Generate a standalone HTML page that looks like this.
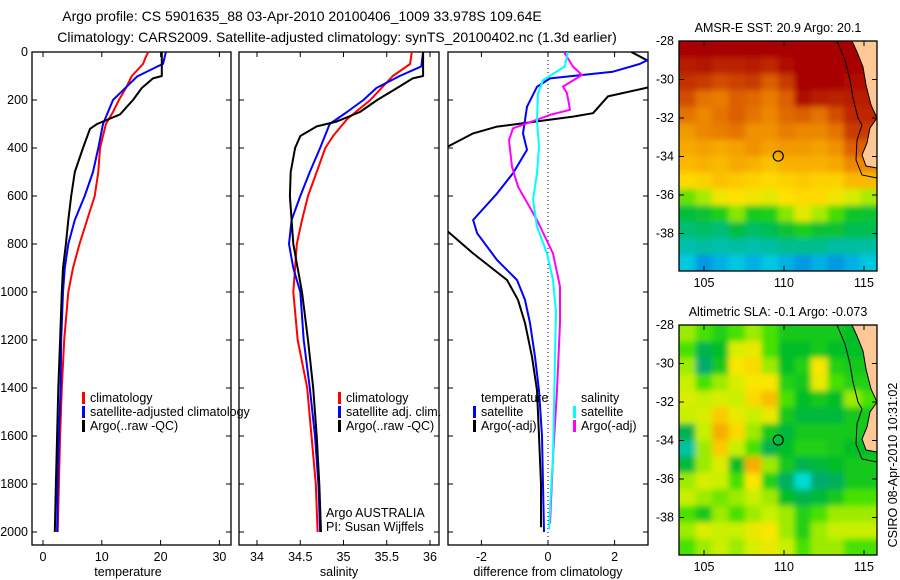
<!DOCTYPE html>
<html><head><meta charset="utf-8"><style>
html,body{margin:0;padding:0;background:#fff;}
svg{display:block;font-family:"Liberation Sans",sans-serif;}
text{fill:#000;}
</style></head><body>
<svg id="fig" width="900" height="580" viewBox="0 0 900 580">
<text x="302" y="21" font-size="14" text-anchor="middle">Argo profile: CS 5901635_88 03-Apr-2010 20100406_1009 33.978S 109.64E</text>
<text x="337" y="42" font-size="14" text-anchor="middle">Climatology: CARS2009. Satellite-adjusted climatology: synTS_20100402.nc (1.3d earlier)</text>
<g id="g"></g>
</svg>
<script>
// ---------- data ----------
const depthTicks=[0,200,400,600,800,1000,1200,1400,1600,1800,2000];
const tempTicks=[0,10,20,30];
const salTicks=[34,34.5,35,35.5,36];
const diffTicks=[-2,0,2];
const lonTicks=[105,110,115];
const latTicks=[-28,-30,-32,-34,-36,-38];

const tClimDepth=[0,20,50,100,150,200,250,300,400,500,600,700,800,900,1000,1200,1400,1600,1800,2000];
const tClim=[17.9,17.5,17,15.1,14.1,12.9,11.9,10.7,9.7,9.4,8.8,7.5,6.2,5.1,4.3,3.6,3.2,2.9,2.7,2.5];
const tSatDepth=[0,50,61,102,200,300,400,500,600,700,800,900,1000,1200,1400,1600,1800,2000];
const tSat=[20.9,20.4,19.4,16,11.9,10.2,9.4,8.5,7.1,5.4,4.3,3.7,3.4,3.1,3.0,2.7,2.5,2.4];
const tArgoDepth=[0,100,110,150,200,260,300,320,400,500,600,700,800,900,1000,1200,1400,1600,1800,2000];
const tArgo=[20.2,20.2,18.7,16.8,15.3,13.1,9.2,8,6.8,5.4,4.8,4.3,3.9,3.4,3.2,2.9,2.6,2.4,2.2,2.0];

const sClimDepth=[0,50,100,200,280,350,400,500,600,700,800,900,1000,1200,1400,1600,1800,2000];
const sClim=[35.79,35.77,35.57,35.31,35.04,34.88,34.79,34.69,34.59,34.52,34.46,34.44,34.42,34.47,34.58,34.63,34.68,34.7];
const sSatDepth=[0,60,100,150,200,250,300,400,500,600,700,800,900,1000,1200,1400,1600,1800,2000];
const sSat=[35.92,35.9,35.65,35.38,35.23,35.04,34.84,34.73,34.61,34.5,34.4,34.37,34.42,34.5,34.54,34.61,34.67,34.71,34.73];
const sArgoDepth=[0,100,110,150,200,250,290,310,350,400,500,600,800,1000,1200,1400,1600,1800,2000];
const sArgo=[35.92,35.92,35.8,35.62,35.39,35.19,34.92,34.69,34.5,34.44,34.39,34.38,34.42,34.52,34.59,34.65,34.69,34.72,34.74];

const dTSatDepth=[0,33,50,82,110,145,228,339,408,505,589,700,755,867,950,1033,1129,1270,1410,1600,1800,2000];
const dTSat=[4,3.0,2.75,1.95,0.06,-0.33,-0.63,-0.75,-0.63,-1.05,-1.53,-2.25,-2.13,-1.53,-0.93,-0.69,-0.54,-0.39,-0.27,-0.18,-0.15,-0.12];
const dTArgoDepth=[0,40,100,148,185,255,269,297,311,339,408,500,700,749,839,950,1033,1129,1270,1410,1600,1800,1980];
const dTArgo=[2.5,3.05,4.5,3.0,1.8,1.35,0.75,-0.75,-1.53,-2.25,-3.2,-4.5,-4.5,-3.0,-2.25,-1.23,-0.9,-0.69,-0.48,-0.33,-0.27,-0.21,-0.21];
const dSSatDepth=[0,61,117,172,283,394,505,616,727,839,950,1083,1270,1480,1687,1826,1990];
const dSSat=[0.6,0.5,-0.15,-0.3,-0.33,-0.27,-0.33,-0.45,-0.33,-0.03,0.15,0.24,0.21,0.18,0.15,0.09,0.03];
const dSArgoDepth=[0,61,96,144,172,241,262,297,318,367,478,561,700,839,978,1129,1410,1687,1965];
const dSArgo=[0.48,0.75,1.02,0.45,0.57,0.66,0.06,-0.63,-1.05,-1.17,-1.08,-0.9,-0.33,0.15,0.36,0.36,0.27,0.15,0.06];

// SST grid (deg C), rows north->south, cols west->east
const sstGrid=[
[23,23,23,23,23,23,23,23,23,23,23,23],
[22.6,22.7,22.5,22.5,22.6,22.4,22.8,23,23,23,23,23],
[22.3,22.2,22.0,22.1,22.2,21.8,22.2,23,23,23,22.8,22.8],
[22,21.6,21.5,21.8,21.7,21.5,21.8,22.8,22.6,22.5,22.6,22.6],
[21.6,21.4,21.6,21.8,21.6,21.4,21.7,21.8,21.6,22,22.4,22.4],
[21.2,21.4,21.5,21.6,21.3,21.3,21.5,21.4,21.4,21.6,22.2,22.2],
[21,21.1,21.0,21.1,21.3,21.1,21.2,21.2,21.1,21.3,21.8,21.8],
[20.8,20.9,20.8,21.0,20.9,20.7,20.9,20.9,20.9,21.0,21.4,21.4],
[20.4,20.5,20.7,20.6,20.5,20.4,20.5,20.6,20.5,20.5,20.8,20.8],
[19.6,19.8,20.2,20.3,20.2,20.1,20.3,20.4,20.4,20.2,20,19.8],
[18.8,18.9,19.2,19.7,19.1,19.2,19.7,20.1,19.8,19.5,19,18.9],
[18.5,18.6,18.5,18.8,18.6,18.7,18.9,19.2,18.9,18.9,18.7,18.7],
[18.2,18.3,18.2,18.3,18.2,18.3,18.4,18.4,18.4,18.3,18.3,18.3],
[17.8,17.6,17.7,17.8,17.7,17.8,17.7,17.6,17.7,17.6,17.7,17.8]];
// SLA grid (m)
const slaGrid=[
[.02,.0,-.02,.0,.02,.0,-.03,-.03,-.03,-.03,-.04,-.04],
[.0,-.06,-.04,.04,.05,.0,-.04,-.04,-.03,-.04,-.04,-.04],
[.02,-.08,-.03,.06,.07,.02,-.04,-.02,.06,-.02,-.03,-.03],
[.03,.0,.02,.04,.06,.06,-.02,-.03,.05,.0,-.02,-.02],
[.04,.03,.04,.03,.07,.09,.0,-.04,-.03,-.04,.02,.0],
[.03,.04,.08,.05,.03,.05,-.03,-.05,-.05,-.05,-.03,-.03],
[-.06,.03,.1,.07,.02,-.03,-.05,-.03,-.03,-.03,-.03,-.03],
[-.1,.02,.08,.03,.0,-.06,-.04,-.02,-.02,-.03,-.04,-.04],
[-.05,.02,.04,-.04,.1,.02,-.03,-.06,-.05,-.04,-.03,-.03],
[.02,.04,.03,.0,.06,-.02,-.07,-.12,-.08,-.07,-.03,-.03],
[.03,.02,.01,.02,.03,.02,-.04,-.06,-.05,-.03,.0,.0],
[.0,-.03,.02,.0,.02,.03,.02,-.02,.0,.02,.02,.02],
[.02,.04,.03,.03,.05,.06,.02,-.02,.02,.03,.03,.03],
[.0,.02,.03,.02,.04,.05,.03,.0,.02,.02,.0,.0]];
const argoLon=109.64, argoLat=-33.978;

// ---------- helpers ----------
const NS='http://www.w3.org/2000/svg';
const G=document.getElementById('g');
function mk(tag,attrs,parent){const e=document.createElementNS(NS,tag);for(const k in attrs)e.setAttribute(k,attrs[k]);(parent||G).appendChild(e);return e;}
const yD=d=>52+d*0.24;

function panel(name,x0,x1,xs,ticks,fmt,label,labelX){
  const g=mk('g',{});
  
  
  mk('rect',{x:x0,y:52,width:x1-x0,height:493,fill:'none',stroke:'#000','stroke-width':1.3},g);
  ticks.forEach(t=>{const x=xs(t);
    mk('line',{x1:x,x2:x,y1:52,y2:57,stroke:'#000'},g);
    mk('line',{x1:x,x2:x,y1:545,y2:540,stroke:'#000'},g);
    const tx=mk('text',{x:x,y:561,'font-size':12.5,'text-anchor':'middle'},g);tx.textContent=fmt(t);
    
    
  });
  depthTicks.forEach(d=>{const y=yD(d);
    mk('line',{x1:x0,x2:x0+5,y1:y,y2:y,stroke:'#000'},g);
    mk('line',{x1:x1,x2:x1-5,y1:y,y2:y,stroke:'#000'},g);
  });
  const l=mk('text',{x:labelX,y:576,'font-size':12.5,'text-anchor':'middle'},g);l.textContent=label;
  
  
  return g;
}
function line(g,depths,vals,xs,color,w,clip,name){
  const pts=depths.map((d,i)=>xs(vals[i]).toFixed(1)+','+yD(d).toFixed(1)).join(' ');
  const p=mk('polyline',{points:pts,fill:'none',stroke:color,'stroke-width':w,'stroke-linejoin':'round','clip-path':clip||''},g);
  
  
}
function legend(g,x,y,color,txt){
  if(color) mk('rect',{x:x,y:y-10,width:3,height:12,fill:color},g);
  const t=mk('text',{x:x+8,y:y,'font-size':12.5},g);t.textContent=txt;
  
  
}

depthTicks.forEach(d=>{const t=mk('text',{x:28,y:yD(d)+4,'font-size':12.5,'text-anchor':'end'});t.textContent=d;
  
  });

const xT=v=>43+5.88*v;
const p1=panel('temperature-panel',32,231,xT,tempTicks,String,'temperature',128);
line(p1,tClimDepth,tClim,xT,'#f00',2,'','temp-climatology-line');
line(p1,tSatDepth,tSat,xT,'#00f',2,'','temp-satellite-line');
line(p1,tArgoDepth,tArgo,xT,'#000',2,'','temp-argo-line');
legend(p1,82,402,'#f00','climatology');
legend(p1,82,416,'#00f','satellite-adjusted climatology');
legend(p1,82,430,'#000','Argo(..raw -QC)');

const xS=v=>257+86.5*(v-34);
const p2=panel('salinity-panel',239,439,xS,salTicks,String,'salinity',339);
line(p2,sClimDepth,sClim,xS,'#f00',2,'','sal-climatology-line');
line(p2,sSatDepth,sSat,xS,'#00f',2,'','sal-satellite-line');
line(p2,sArgoDepth,sArgo,xS,'#000',2,'','sal-argo-line');
legend(p2,338,402,'#f00','climatology');
legend(p2,338,416,'#00f','satellite adj. clim.');
legend(p2,338,430,'#000','Argo(..raw -QC)');
const a1=mk('text',{x:326,y:517,'font-size':12.5},p2);a1.textContent='Argo AUSTRALIA';


const a2=mk('text',{x:326,y:531,'font-size':12.5},p2);a2.textContent='PI: Susan Wijffels';



const defs=mk('defs',{});
const cp=mk('clipPath',{id:'c3'},defs);mk('rect',{x:448,y:52,width:200,height:493},cp);
const cm1=mk('clipPath',{id:'cm41'},defs);mk('rect',{x:679,y:41,width:198,height:230},cm1);
const cm2=mk('clipPath',{id:'cm325'},defs);mk('rect',{x:679,y:325,width:198,height:230},cm2);
const fb=mk('filter',{id:'blur',x:'-10%',y:'-10%',width:'120%',height:'120%'},defs);
mk('feGaussianBlur',{stdDeviation:3},fb);
const xDf=v=>548+33.3*v;
const p3=panel('difference-panel',448,648,xDf,diffTicks,String,'difference from climatology',548);
mk('line',{x1:548,x2:548,y1:52,y2:545,stroke:'#000','stroke-dasharray':'1,3'},p3);
line(p3,dTArgoDepth,dTArgo,xDf,'#000',2,'url(#c3)','diff-temp-argo-line');
line(p3,dTSatDepth,dTSat,xDf,'#00f',2,'url(#c3)','diff-temp-satellite-line');
line(p3,dSArgoDepth,dSArgo,xDf,'#f0f',2,'url(#c3)','diff-sal-argo-line');
line(p3,dSSatDepth,dSSat,xDf,'#0ff',2,'url(#c3)','diff-sal-satellite-line');
legend(p3,473,402,null,'temperature');
legend(p3,473,416,'#00f','satellite');
legend(p3,473,430,'#000','Argo(-adj)');
legend(p3,573,402,null,'salinity');
legend(p3,573,416,'#0ff','satellite');
legend(p3,573,430,'#f0f','Argo(-adj)');

// ---------- maps ----------
function interpRGB(stops,v){
  if(v<=stops[0][0])return 'rgb('+stops[0][1].join(',')+')';
  for(let i=1;i<stops.length;i++){if(v<=stops[i][0]){const a=stops[i-1],b=stops[i],f=(v-a[0])/(b[0]-a[0]);
    return 'rgb('+a[1].map((c,k)=>Math.round(c+(b[1][k]-c)*f)).join(',')+')';}}
  return 'rgb('+stops[stops.length-1][1].join(',')+')';
}
const sstStops=[[17.3,[0,80,230]],[17.8,[0,200,225]],[18.3,[0,190,160]],[18.8,[0,190,60]],[19.4,[40,215,0]],[19.9,[200,240,0]],[20.3,[255,225,0]],[20.8,[250,185,0]],[21.3,[240,145,0]],[21.8,[220,95,0]],[22.4,[190,40,0]],[23,[168,0,0]]];
const slaStops=[[-0.12,[0,220,210]],[-0.08,[0,170,110]],[-0.04,[0,190,40]],[0,[70,225,0]],[0.03,[200,240,0]],[0.06,[250,230,0]],[0.09,[250,190,0]],[0.12,[240,140,0]]];

function map(name,top,grid,stops,title){
  const g=mk('g',{});
  
  
  const L=679,R=877,W=R-L,H=230;
  const lonX=lo=>704+(lo-105)*16;
  const latY=la=>top+(-28-la)*19.25;
  const rows=grid.length,cols=grid[0].length,cw=W/cols,ch=H/rows;
  const clipG=mk('g',{'clip-path':'url(#cm'+top+')'},g);
  const cells=mk('g',{filter:'url(#blur)'},clipG);
  const pad=14;
  grid.forEach((row,r)=>row.forEach((v,c)=>{
    let x=L+c*cw,y=top+r*ch,w=cw+0.6,h=ch+0.6;
    if(c===0){x-=pad;w+=pad;} if(c===cols-1){w+=pad;}
    if(r===0){y-=pad;h+=pad;} if(r===rows-1){h+=pad;}
    const cell=mk('rect',{x:x,y:y,width:w,height:h,fill:interpRGB(stops,v)},cells);
    
    
  }));
  const o=top-41;
  const land=mk('polygon',{points:[[852,41],[877,41],[877,168],[866,166],[862,155],[867,143],[870,128],[877,118],[871,105],[866,85],[863,67],[857,52]].map(p=>p[0]+','+(p[1]+o)).join(' '),fill:'#fdc896'},g);
  
  
  mk('polyline',{points:[[852,41],[857,52],[863,67],[866,85],[871,105],[877,118],[870,128],[867,143],[862,155],[866,166],[877,168]].map(p=>p[0]+','+(p[1]+o)).join(' '),fill:'none',stroke:'#000','stroke-width':1},g);
  mk('polyline',{points:[[837,41],[845,60],[850,80],[853,98],[858,118],[862,125],[857,140],[856,160],[862,175],[877,178]].map(p=>p[0]+','+(p[1]+o)).join(' '),fill:'none',stroke:'#000','stroke-width':1},g);
  mk('rect',{x:L,y:top,width:W,height:H,fill:'none',stroke:'#000','stroke-width':1.3},g);
  lonTicks.forEach(lo=>{const x=lonX(lo);
    mk('line',{x1:x,x2:x,y1:top,y2:top+5,stroke:'#000'},g);
    mk('line',{x1:x,x2:x,y1:top+H,y2:top+H-5,stroke:'#000'},g);
    const t=mk('text',{x:x,y:top+H+16,'font-size':12.5,'text-anchor':'middle'},g);t.textContent=lo;
    
    });
  latTicks.forEach(la=>{const y=latY(la);
    mk('line',{x1:L,x2:L+5,y1:y,y2:y,stroke:'#000'},g);
    mk('line',{x1:R,x2:R-5,y1:y,y2:y,stroke:'#000'},g);
    const t=mk('text',{x:674,y:y+4,'font-size':12.5,'text-anchor':'end'},g);t.textContent=la;
    
    });
  const m=mk('circle',{cx:lonX(argoLon),cy:latY(argoLat),r:5,fill:'none',stroke:'#000','stroke-width':1.2},g);
  
  
  const t=mk('text',{x:778,y:top-9,'font-size':12.5,'text-anchor':'middle'},g);t.textContent=title;
  
  
}
map('sst-map',41,sstGrid,sstStops,'AMSR-E SST: 20.9 Argo: 20.1');
map('sla-map',325,slaGrid,slaStops,'Altimetric SLA: -0.1 Argo: -0.073');
const cs=mk('text',{x:0,y:0,'font-size':12.5,'text-anchor':'middle',transform:'translate(897,465) rotate(-90)'});
cs.textContent='CSIRO 08-Apr-2010 10:31:02';


</script>
</body></html>
